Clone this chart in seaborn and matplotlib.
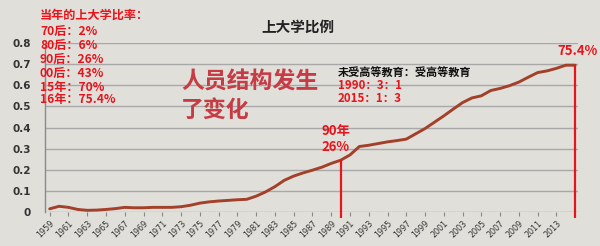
import matplotlib
matplotlib.use("Agg")
import matplotlib.pyplot as plt
import seaborn as sns
import pandas as pd
import numpy as np

years = list(range(1959, 2016))
ratio = [0.015, 0.027, 0.022, 0.012, 0.008, 0.009, 0.012, 0.016, 0.022, 0.020,
         0.020, 0.022, 0.022, 0.022, 0.025, 0.032, 0.042, 0.048, 0.052, 0.055,
         0.058, 0.060, 0.075, 0.095, 0.120, 0.150, 0.170, 0.185, 0.198, 0.212,
         0.230, 0.245, 0.270, 0.310, 0.316, 0.324, 0.332, 0.338, 0.345, 0.370,
         0.395, 0.425, 0.455, 0.487, 0.518, 0.540, 0.550, 0.575, 0.585, 0.598,
         0.615, 0.638, 0.660, 0.668, 0.680, 0.695, 0.695]
ytick_vals = [0, 0.1, 0.2, 0.3, 0.4, 0.5, 0.6, 0.7, 0.8]
ytick_labels = ["0", "0.1", "0.2", "0.3", "0.4", "0.5", "0.6", "0.7", "0.8"]
xtick_years = list(range(1959, 2015, 2))
marked_years = [1990, 2015]

title = "上大学比例"
legend_lines = ["当年的上大学比率：", "70后：2%", "80后：6%", "90后：26%",
                "00后：43%", "15年：70%", "16年：75.4%"]
big_text = "人员结构发生\n了变化"
ratio_title = "未受高等教育：受高等教育"
ratio_lines = ["1990：3：1", "2015：1：3"]
note_90 = "90年\n26%"
note_end = "75.4%"

sns.set_theme(style="white")
plt.rcParams['font.family'] = ['Noto Sans CJK SC', 'DejaVu Sans']

bg = "#e1dfda"
red = "#e8141c"
df = pd.DataFrame({"year": years, "ratio": ratio})

fig = plt.figure(figsize=(6, 2.46), dpi=100, facecolor=bg)
ax = fig.add_axes([45/600, 1-212/246, (578-45)/600, (212-43)/246])
ax.set_facecolor(bg)

for v in ytick_vals:
    ax.axhline(v, color="#a8a8a8", lw=1.0, zorder=1)

sns.lineplot(data=df, x="year", y="ratio", ax=ax, color="#a3402a", lw=2.1, zorder=3)

vals = dict(zip(years, ratio))
for yr in marked_years:
    ax.vlines(yr, -0.03, vals[yr], color=red, lw=1.6, zorder=4, clip_on=False)

ax.set_xlim(1958.5, 2015.3)
ax.set_ylim(0, 0.8)
ax.set_yticks(ytick_vals)
ax.set_yticklabels(ytick_labels, fontsize=7.5, fontweight="bold", color="#333333",
                   family=['DejaVu Sans'])
ax.set_xticks(xtick_years)
ax.set_xticklabels([str(y) for y in xtick_years], rotation=45, ha="right",
                   rotation_mode="anchor", fontsize=5.8, color="#333333",
                   family=['DejaVu Sans'])
ax.set_xlabel("")
ax.set_ylabel("")
ax.tick_params(axis="x", length=3, width=0.8, color="#888888", pad=2, direction="out", bottom=True)
ax.tick_params(axis="y", length=0, pad=10)
for s in ["top", "right", "bottom"]:
    ax.spines[s].set_visible(False)
ax.spines["left"].set_color("#8a8a8a")
ax.spines["left"].set_linewidth(1.0)

def fx(px):
    return px / 600
def fy(py):
    return 1 - py / 246

fig.text(fx(298), fy(27), title, fontsize=10.5, fontweight="bold", color="#222222",
         ha="center", va="center")

ys = [15, 31, 45, 59, 73, 87, 100]
for t, yy in zip(legend_lines, ys):
    fig.text(fx(40), fy(yy), t, fontsize=8.7, fontweight="bold", color=red,
             ha="left", va="center")

fig.text(fx(181), fy(96), big_text, fontsize=16.5, fontweight="bold", color="#c63b44",
         ha="left", va="center", linespacing=1.3)

fig.text(fx(338), fy(72), ratio_title, fontsize=8, fontweight="bold", color="#111111",
         ha="left", va="center")
for t, yy in zip(ratio_lines, [85, 98]):
    fig.text(fx(338), fy(yy), t, fontsize=8.3, fontweight="bold", color=red,
             ha="left", va="center")

fig.text(fx(321), fy(139), note_90, fontsize=9.5, fontweight="bold", color=red,
         ha="left", va="center", linespacing=1.15)
fig.text(fx(578), fy(51), note_end, fontsize=9.5, fontweight="bold", color=red,
         ha="center", va="center")

fig.savefig("out.png", dpi=100, facecolor=bg)
